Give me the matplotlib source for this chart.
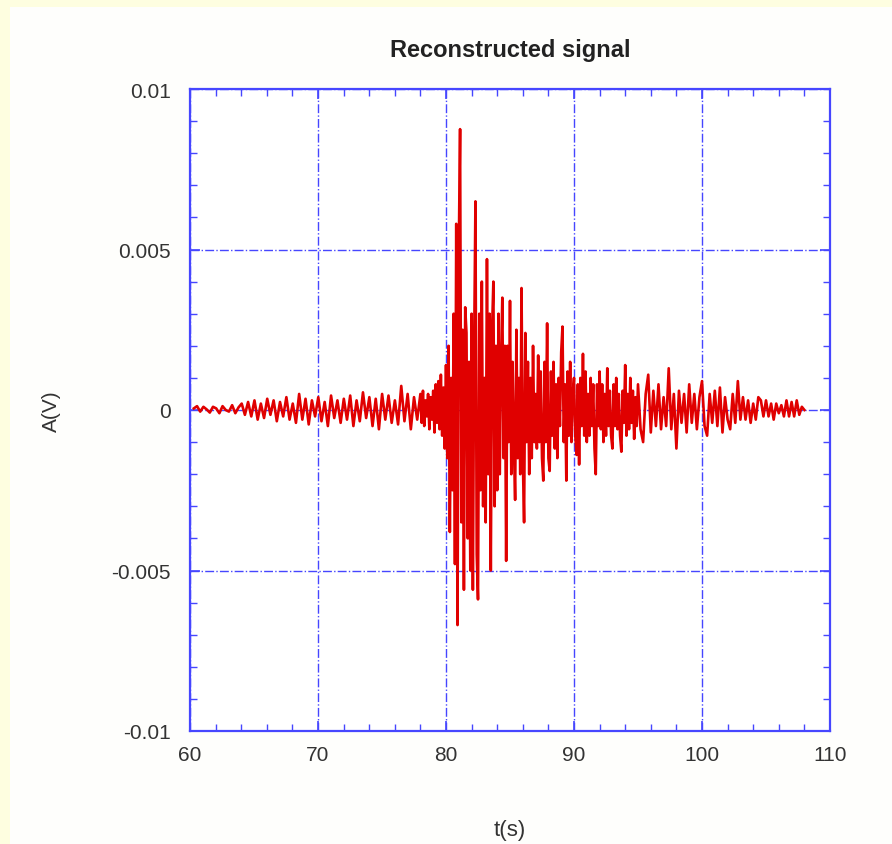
import matplotlib.pyplot as plt
from matplotlib.patches import Rectangle
from matplotlib.ticker import MultipleLocator
import numpy as np

plt.rcParams['font.family'] = ['Liberation Sans', 'DejaVu Sans']

# amplitude values in units of 1e-3 V, three time segments
# quiet part, 60.3 .. 78.0 s
quiet_vals = [0.05, 0.12, -0.05, 0.1, 0.02, -0.08, 0.1, 0.05, -0.1, 0.12, 0.0, -0.05, 0.15, -0.1, 0.08, 0.2,
              -0.15, 0.25, -0.2, 0.3, -0.3, 0.2, -0.25, 0.35, -0.15, 0.3, -0.35, 0.25, -0.2, 0.4, -0.3, 0.2,
              -0.4, 0.5, -0.3, 0.35, -0.45, 0.3, -0.2, 0.4, -0.35, 0.25, -0.5, 0.45, -0.25, 0.3, -0.4, 0.35,
              -0.3, 0.45, -0.5, 0.3, -0.35, 0.55, -0.25, 0.4, -0.5, 0.35, -0.6, 0.5, -0.3, 0.45, -0.4, 0.3,
              -0.45, 0.75, -0.35, 0.5, -0.6, 0.4, -0.3, 0.5]
# strong part, 78.1 .. 95.0 s (0.1 s step)
strong_vals = [-0.4, 0.6, -0.5, 0.3, -0.2, 0.5, -0.6, 0.4, -0.3, 0.6,
               -0.7, 0.8, -0.4, 0.9, -0.6, 1.1, -0.8, 0.7, -1.2, 1.4,
               -1.5, 2.0, -3.8, 1.0, -2.5, 3.0, -4.8, 5.8, -6.7, 5.0,
               8.75, -3.5, 2.5, -5.6, 3.2, 2.4, -4.0, 1.5, -5.0, 3.0,
               -5.6, 2.0, 6.5, -4.5, -5.9, 3.0, -2.5, 4.0, -3.0, 1.0,
               -3.5, 4.7, -2.0, 3.0, -5.0, 2.5, 4.0, -3.0, 2.0, -2.5,
               3.0, -2.0, 1.5, 3.5, -1.5, 2.0, -4.7, 2.0, -1.0, 3.4,
               -2.0, 1.5, -1.0, -2.8, 2.5, -1.5, 1.0, -2.0, 3.8, -1.5,
               -3.5, 2.4, -1.0, 1.5, -2.0, 1.0, -1.5, 2.0, -1.0, 0.5,
               -1.2, 1.7, -1.0, 1.2, -1.5, -2.2, 1.5, -1.0, 2.7, -1.5,
               -1.9, 1.2, -0.8, 1.5, -1.2, 0.8, -1.5, 1.0, -0.5, 1.8,
               2.6, -1.0, 0.8, -2.2, 1.2, -0.8, 1.5, -1.0, 0.5, 1.0,
               -0.8, -1.4, 0.8, -1.7, 1.0, -0.5, 1.75, -0.8, 1.2, -1.0,
               0.5, -0.8, 1.0, -0.5, 0.8, -1.2, -2.0, 0.8, -0.5, 1.2,
               -0.6, 0.8, -1.0, 0.5, -0.8, 1.3, -0.5, 0.6, -0.8, -1.2,
               0.8, -0.5, 1.0, -0.6, 0.5, -0.8, -1.3, 0.6, -0.4, 1.4,
               -0.8, 0.5, -0.6, 1.0, -0.4, 0.6, -0.9, 0.4, -0.5, 0.8]
# decaying tail, 95.2 .. 108.0 s (0.2 s step)
tail_vals = [-0.6, -1.0, 0.5, 1.1, -0.7, 0.6, -0.5, 0.8, -0.6, 0.4,
             -0.5, 1.3, -0.6, 0.5, -1.2, 0.6, -0.4, 0.5, -0.7, 0.8,
             -0.4, 0.5, -0.6, 0.4, 0.9, -0.5, -0.8, 0.5, -0.4, 0.6,
             -0.5, 0.7, -0.7, 0.4, -0.3, -0.6, 0.5, -0.4, 0.9, -0.3,
             0.4, -0.3, 0.3, -0.4, 0.2, -0.3, 0.4, 0.3, -0.2, 0.3,
             -0.2, 0.2, -0.3, 0.2, -0.1, 0.15, -0.2, 0.3, -0.2, 0.25,
             -0.2, 0.3, -0.15, 0.1, 0.0]

t = np.concatenate([np.linspace(60.3, 78.0, len(quiet_vals)),
                    np.linspace(78.1, 95.0, len(strong_vals)),
                    np.linspace(95.2, 108.0, len(tail_vals))])
amp = np.array(quiet_vals + strong_vals + tail_vals) * 1e-3

blue = '#4646ff'
txt = '#333333'

fig = plt.figure(figsize=(8.92, 8.45), dpi=100, facecolor='#fefee0')
bg = Rectangle((10 / 892, 0), 1, 1 - 8 / 845, transform=fig.transFigure,
               facecolor='#fefefc', edgecolor='none', zorder=-10)
fig.patches.append(bg)
ax = fig.add_axes([190 / 892, 1 - 732 / 845, 640 / 892, 642 / 845])
ax.set_zorder(5)
ax.set_facecolor('white')

ax.plot(t, amp, color='#e00000', lw=1.9, zorder=3)

ax.set_xlim(60, 110)
ax.set_ylim(-0.01, 0.01)
ax.xaxis.set_major_locator(MultipleLocator(10))
ax.xaxis.set_minor_locator(MultipleLocator(2))
ax.yaxis.set_major_locator(MultipleLocator(0.005))
ax.yaxis.set_minor_locator(MultipleLocator(0.001))
ax.set_yticks([-0.01, -0.005, 0, 0.005, 0.01])
ax.set_yticklabels(['-0.01', '-0.005', '0', '0.005', '0.01'])

ax.grid(True, which='major', color=blue, ls='-.', lw=1.0, zorder=1)
for s in ax.spines.values():
    s.set_color(blue)
    s.set_linewidth(1.6)
ax.tick_params(which='both', direction='in', top=True, right=True, color=blue,
               labelcolor=txt, labelsize=15)
ax.tick_params(axis='y', pad=14)
ax.tick_params(axis='x', pad=10)
ax.tick_params(which='major', length=7, width=1.2)
ax.tick_params(which='minor', length=5, width=1.0)

ax.set_title('Reconstructed signal', fontsize=17, fontweight='bold', color='#222222', pad=24)
ax.set_xlabel('t(s)', fontsize=16, color=txt, labelpad=40)
ax.set_ylabel('A(V)', fontsize=15, color=txt, labelpad=36)

fig.savefig('out.png', dpi=100, facecolor=fig.get_facecolor())
